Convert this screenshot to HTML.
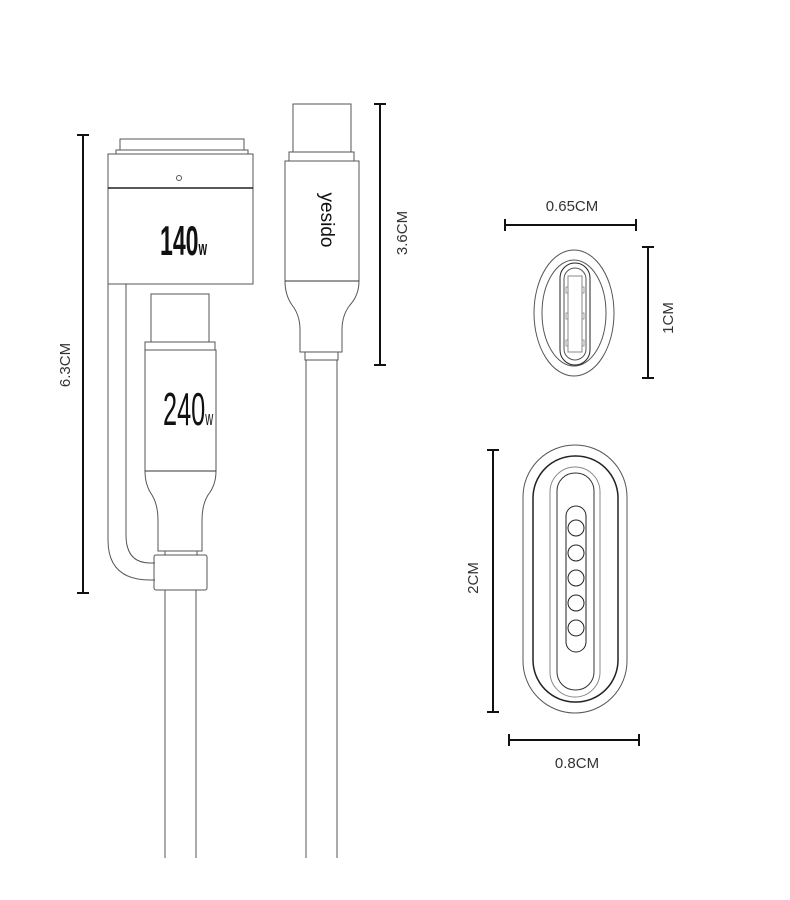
<!DOCTYPE html>
<html><head><meta charset="utf-8"><style>
html,body{margin:0;padding:0;background:#fff;}
svg{display:block;}
text{font-family:"Liberation Sans",sans-serif;}
</style></head><body>
<svg width="790" height="900" viewBox="0 0 790 900" xmlns="http://www.w3.org/2000/svg">
<g fill="none" stroke="#555" stroke-width="1">
<rect x="120" y="139" width="124" height="11"/>
<rect x="116" y="150" width="132" height="4"/>
<rect x="108" y="154" width="145" height="130"/>
<line x1="108" y1="188" x2="253" y2="188" stroke="#222" stroke-width="1.5"/>
<circle cx="179" cy="178" r="2.5"/>
<path d="M108 284 V540 Q108 580 150 580 H155"/>
<path d="M126 284 V535 Q126 563 150 563 H155"/>
<rect x="151" y="294" width="58" height="48"/>
<rect x="145" y="342" width="70" height="8"/>
<path d="M145 350 H216 V471 Q216 485 208 495 Q202 505 202 520 V551 H158 V520 Q158 505 152 495 Q145 485 145 471 Z"/>
<line x1="145" y1="471" x2="216" y2="471" stroke="#333"/>
<rect x="165" y="551" width="32" height="4"/>
<rect x="154" y="555" width="53" height="35" rx="2"/>
<line x1="165" y1="590" x2="165" y2="858"/>
<line x1="196" y1="590" x2="196" y2="858"/>
<rect x="293" y="104" width="58" height="48"/>
<rect x="289" y="152" width="65" height="9"/>
<path d="M285 161 H359 V281 Q359 295 350 305 Q342 315 342 330 V352 H300 V330 Q300 315 292 305 Q285 295 285 281 Z"/>
<line x1="285" y1="281" x2="359" y2="281" stroke="#333"/>
<rect x="305" y="352" width="33" height="8"/>
<line x1="306" y1="360" x2="306" y2="858"/>
<line x1="337" y1="360" x2="337" y2="858"/>
<ellipse cx="574" cy="313" rx="40" ry="63"/>
<ellipse cx="574" cy="313" rx="32" ry="53"/>
<rect x="560" y="263" width="30" height="102" rx="15" stroke="#222"/>
<rect x="564" y="268" width="22" height="92" rx="11"/>
<rect x="568" y="276" width="14" height="76" stroke="#888"/>
<g stroke="#888" stroke-width="0.8">
<rect x="566" y="287" width="2" height="6"/><rect x="582" y="287" width="2" height="6"/>
<rect x="566" y="313" width="2" height="6"/><rect x="582" y="313" width="2" height="6"/>
<rect x="566" y="340" width="2" height="6"/><rect x="582" y="340" width="2" height="6"/>
</g>
<rect x="523" y="445" width="104" height="268" rx="52"/>
<rect x="533" y="456" width="85" height="246" rx="42" stroke="#222" stroke-width="1.5"/>
<rect x="550" y="467" width="50" height="230" rx="25" stroke="#888"/>
<rect x="557" y="473" width="37" height="217" rx="18" stroke="#333"/>
<rect x="566" y="506" width="20" height="146" rx="10" stroke="#222"/>
<g stroke="#222"><circle cx="576" cy="528" r="8"/><circle cx="576" cy="553" r="8"/><circle cx="576" cy="578" r="8"/><circle cx="576" cy="603" r="8"/><circle cx="576" cy="628" r="8"/></g>
</g>
<g stroke="#111" stroke-width="2" fill="none">
<path d="M83 135 V593 M77 135 H89 M77 593 H89"/>
<path d="M380 104 V365 M374 104 H386 M374 365 H386"/>
<path d="M505 225 H636 M505 219 V231 M636 219 V231"/>
<path d="M648 247 V378 M642 247 H654 M642 378 H654"/>
<path d="M493 450 V712 M487 450 H499 M487 712 H499"/>
<path d="M509 740 H639 M509 734 V746 M639 734 V746"/>
</g>
<g fill="#333" font-size="15">
<text x="70" y="365" text-anchor="middle" transform="rotate(-90 70 365)">6.3CM</text>
<text x="407" y="233" text-anchor="middle" transform="rotate(-90 407 233)">3.6CM</text>
<text x="572" y="211" text-anchor="middle">0.65CM</text>
<text x="673" y="318" text-anchor="middle" transform="rotate(-90 673 318)">1CM</text>
<text x="478" y="578" text-anchor="middle" transform="rotate(-90 478 578)">2CM</text>
<text x="577" y="768" text-anchor="middle">0.8CM</text>
</g>
<g fill="#111">
<text transform="translate(160 255) scale(0.55 1)" font-size="42" font-weight="bold">140<tspan font-size="20">w</tspan></text>
<text transform="translate(163 425) scale(0.55 1)" font-size="46">240<tspan font-size="20">w</tspan></text>
</g>
<text x="326" y="220" text-anchor="middle" font-size="19" fill="#111" transform="rotate(90 326 220)" dominant-baseline="middle">yesido</text>
</svg>
</body></html>
